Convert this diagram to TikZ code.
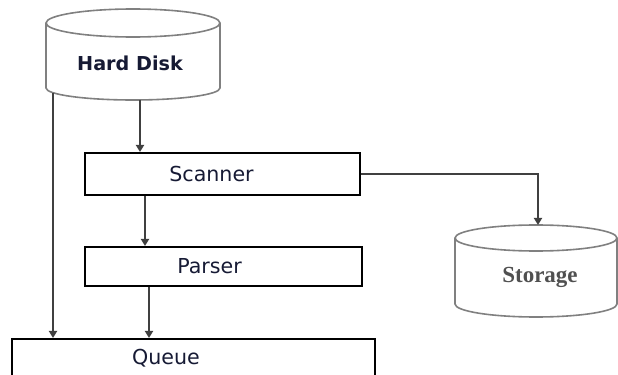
\documentclass[tikz,border=0pt]{standalone}
\usepackage{fontspec}
\setmainfont{DejaVu Sans}
\newfontfamily\storefont{Liberation Serif}
\usetikzlibrary{positioning,calc,arrows.meta}
\definecolor{txtblue}{RGB}{22,26,52}
\definecolor{storegray}{RGB}{80,80,80}
\tikzset{
  box/.style={draw=black, line width=1pt, inner sep=0pt},
  disk/.style={draw=black!50, line width=0.8pt, fill=white},
  flow/.style={draw=black!75, line width=0.9pt, -{Triangle[length=3.5pt,width=4pt]}},
  lbl/.style={text=txtblue, font=\fontsize{10.3}{12}\selectfont}
}
\begin{document}
\begin{tikzpicture}[x=0.5pt,y=-0.5pt]
\useasboundingbox (0,0) rectangle (618,375);
\clip (0,0) rectangle (618,375);

% hard disk
\draw[disk] (46,23) -- (46,88) arc[start angle=180,end angle=0,x radius=87,y radius=12] -- (220,23);
\draw[disk] (133,23) ellipse[x radius=87,y radius=14];
\node[text=txtblue, font=\bfseries\fontsize{9.6}{12}\selectfont] (hd) at (130,63) {Hard Disk};
\coordinate (hdl) at (53,93);
\coordinate (hdb) at (140,100);

% storage
\draw[disk] (455,238) -- (455,304) arc[start angle=180,end angle=0,x radius=81,y radius=13] -- (617,238);
\draw[disk] (536,238) ellipse[x radius=81,y radius=13];
\node[text=storegray, font=\storefont\bfseries\fontsize{11.5}{13}\selectfont] (st) at (540,277) {Storage};
\coordinate (sttop) at (538,225);

% boxes
\node[box, minimum width=137.5pt, minimum height=21pt,
      label={[lbl,xshift=-5.5pt]center:Scanner}] (scan) at (222.5,174) {};
\node[box, minimum width=138.5pt, minimum height=19.5pt,
      label={[lbl,xshift=-7pt]center:Parser}] (pars) at (223.5,266.5) {};
\node[box, anchor=north, minimum width=181.5pt, minimum height=31pt,
      label={[lbl,xshift=-13.75pt,yshift=6pt]center:Queue}] (queue) at (193.5,338) {};

% arrows
\coordinate (sp) at ($(scan.south west)+(61,0)$);
\coordinate (pq) at ($(pars.south west)+(65,0)$);
\draw[flow] (hdb) -- (hdb |- scan.north);
\draw[flow] (hdl) -- (hdl |- queue.north);
\draw[flow] (sp) -- (sp |- pars.north);
\draw[flow] (pq) -- (pq |- queue.north);
\draw[flow] (scan.east) -| (sttop);
\end{tikzpicture}
\end{document}
